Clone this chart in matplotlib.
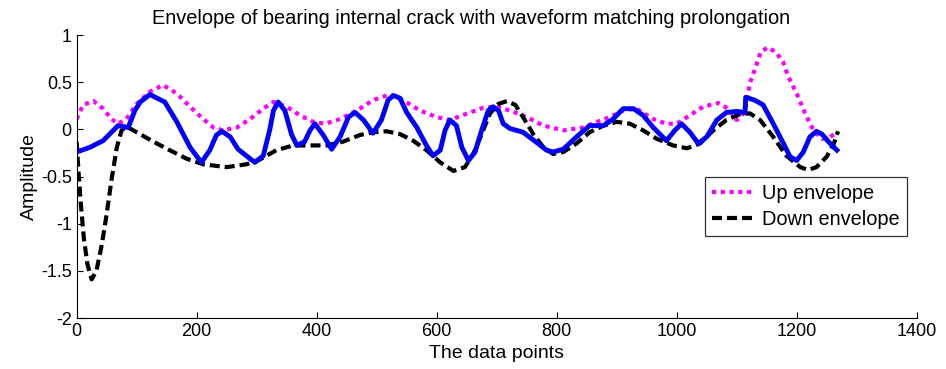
import numpy as np
import matplotlib
matplotlib.use("Agg")
import matplotlib.pyplot as plt

# signal (blue)
sig_x = [0, 22, 44, 69, 86, 97, 106, 122, 147, 167, 189, 208, 222, 233, 242, 256, 269, 283,
         297, 311, 322, 328, 336, 347, 358, 367, 380, 389, 397, 411, 425, 439, 453, 464,
         478, 494, 508, 519, 528, 539, 550, 567, 583, 594, 606, 614, 622, 633, 642, 653,
         664, 675, 686, 694, 703, 711, 722, 744, 767, 783, 794, 811, 833, 855, 878, 894,
         911, 928, 944, 961, 983, 997, 1008, 1022, 1036, 1050, 1067, 1083, 1100, 1114,
         1115, 1130, 1144, 1161, 1178, 1189, 1200, 1211, 1222, 1233, 1242, 1253, 1267]
sig_y = [-0.24, -0.19, -0.12, 0.04, 0.02, 0.2, 0.29, 0.37, 0.29, 0.08, -0.19, -0.35, -0.22,
         -0.06, -0.02, -0.08, -0.21, -0.28, -0.35, -0.28, 0.0, 0.2, 0.29, 0.2, -0.05, -0.17,
         -0.13, -0.01, 0.06, -0.06, -0.21, -0.08, 0.13, 0.18, 0.1, -0.04, 0.1, 0.31, 0.36,
         0.33, 0.18, 0.02, -0.17, -0.28, -0.22, -0.01, 0.1, 0.04, -0.19, -0.33, -0.24, -0.01,
         0.2, 0.24, 0.2, 0.06, 0.01, -0.03, -0.14, -0.22, -0.24, -0.21, -0.08, 0.04, 0.04,
         0.11, 0.22, 0.22, 0.15, 0.02, -0.12, -0.01, 0.06, -0.03, -0.15, -0.08, 0.1, 0.18,
         0.19, 0.18, 0.34, 0.31, 0.26, 0.06, -0.15, -0.29, -0.33, -0.24, -0.08, -0.02, -0.05,
         -0.13, -0.22]

# up envelope (magenta)
up_x = [0, 11, 28, 44, 58, 69, 83, 100, 122, 144, 167, 189, 211, 228, 244, 267, 289, 311,
        328, 350, 372, 394, 414, 439, 467, 494, 522, 544, 572, 600, 622, 656, 678, 700,
        722, 750, 778, 811, 844, 867, 889, 911, 933, 961, 983, 1000, 1022, 1044, 1069,
        1086, 1100, 1108, 1115, 1122, 1130, 1140, 1152, 1165, 1177, 1186, 1200, 1214,
        1228, 1242, 1256, 1267]
up_y = [0.11, 0.26, 0.30, 0.22, 0.11, 0.06, 0.11, 0.27, 0.40, 0.47, 0.38, 0.24, 0.11, 0.02,
        -0.01, 0.02, 0.11, 0.22, 0.29, 0.24, 0.15, 0.08, 0.06, 0.11, 0.2, 0.31, 0.37, 0.31,
        0.2, 0.13, 0.10, 0.18, 0.23, 0.24, 0.2, 0.13, 0.04, -0.01, 0.02, 0.08, 0.13, 0.2,
        0.22, 0.11, 0.06, 0.06, 0.15, 0.24, 0.28, 0.22, 0.1, 0.13, 0.24, 0.49, 0.63, 0.82,
        0.87, 0.82, 0.72, 0.56, 0.38, 0.17, -0.01, -0.1, -0.08, -0.03]

# down envelope (black)
down_x = [0, 3, 7, 12, 18, 25, 33, 42, 50, 58, 67, 75, 83, 100, 128, 155, 183, 211, 250,
          283, 305, 333, 361, 389, 417, 444, 472, 494, 517, 539, 561, 583, 606, 628, 647,
          661, 675, 689, 703, 717, 731, 744, 761, 778, 794, 811, 833, 855, 878, 900, 922,
          944, 967, 994, 1017, 1039, 1061, 1083, 1105, 1122, 1139, 1161, 1183, 1206, 1219,
          1233, 1250, 1262, 1269]
down_y = [-0.13, -0.44, -0.79, -1.15, -1.43, -1.59, -1.5, -1.22, -0.9, -0.54, -0.19, -0.01,
          0.03, -0.03, -0.13, -0.22, -0.31, -0.37, -0.40, -0.37, -0.32, -0.22, -0.17, -0.17,
          -0.17, -0.13, -0.06, -0.03, -0.02, -0.05, -0.12, -0.22, -0.35, -0.44, -0.4, -0.26,
          -0.05, 0.17, 0.27, 0.3, 0.26, 0.13, -0.05, -0.19, -0.26, -0.24, -0.15, -0.03, 0.04,
          0.08, 0.06, -0.01, -0.1, -0.17, -0.2, -0.15, -0.01, 0.1, 0.16, 0.17, 0.1, -0.08,
          -0.28, -0.4, -0.43, -0.4, -0.29, -0.15, -0.02]

plt.rcParams['font.family'] = ['Liberation Sans', 'DejaVu Sans']

fig = plt.figure(figsize=(9.46, 3.69), dpi=100)
ax = fig.add_axes([0.081, 0.138, 0.888, 0.767])

ax.plot(up_x, up_y, color='#ff00ff', linewidth=3, dashes=(1, 1.1), label='Up envelope')
ax.plot(down_x, down_y, color='black', linewidth=3, dashes=(2.4, 1.2),
        label='Down envelope')
ax.plot(sig_x, sig_y, color='#0000ff', linewidth=3.5, solid_joinstyle='round')

ax.set_xlim(0, 1400)
ax.set_ylim(-2, 1)
ax.set_xticks(np.arange(0, 1401, 200))
ax.set_yticks([-2, -1.5, -1, -0.5, 0, 0.5, 1])
ax.set_yticklabels(['-2', '-1.5', '-1', '-0.5', '0', '0.5', '1'])
ax.tick_params(direction='in', labelsize=13, length=4)
ax.spines['top'].set_visible(False)
ax.spines['right'].set_visible(False)

ax.set_title('Envelope of bearing internal crack with waveform matching prolongation',
             fontsize=14.4, x=0.47, pad=8)
ax.set_xlabel('The data points', fontsize=14, labelpad=4)
ax.set_ylabel('Amplitude', fontsize=14, labelpad=2)

leg = ax.legend(loc='upper left', bbox_to_anchor=(0.748, 0.498), fontsize=14.4,
                frameon=True, fancybox=False, edgecolor='black', handlelength=2.1,
                borderpad=0.35, labelspacing=0.35, handletextpad=0.4, borderaxespad=0)
leg.get_frame().set_linewidth(0.9)

fig.savefig('out.png', dpi=100)
